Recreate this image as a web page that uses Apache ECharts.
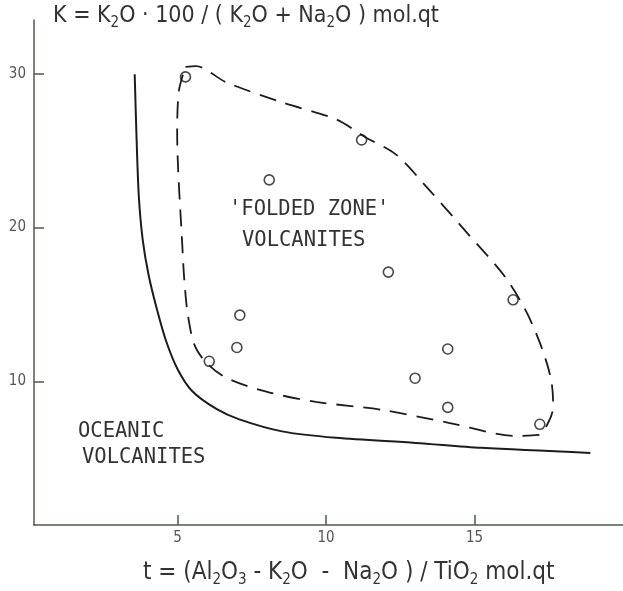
<!DOCTYPE html>
<html>
<head>
<meta charset="utf-8">
<script src="https://cdn.jsdelivr.net/npm/echarts@6/dist/echarts.min.js"></script>
<style>
html, body { margin: 0; padding: 0; background: #fff; }
#chart { width: 623px; height: 591px; }
</style>
</head>
<body>
<div id="chart"></div>
<script>
// tick labels
var xTicks = [5, 10, 15];
var yTicks = [10, 20, 30];

// samples: t (x) and K (y)
var sampleT = [5.27, 11.2, 8.09, 12.1, 16.3, 7.1, 7.0, 6.07, 14.1, 13.0, 14.1, 17.2];
var sampleK = [29.8, 25.7, 23.1, 17.1, 15.3, 14.3, 12.2, 11.3, 12.1, 10.2, 8.3, 7.2];

// boundary of oceanic volcanites (solid)
var oceanicT = [3.56, 3.62, 3.70, 3.83, 4.03, 4.32, 4.62, 5.00, 5.50, 6.31, 7.08, 8.52, 10.34, 13.02, 15.23, 18.9];
var oceanicK = [29.97, 26.0, 22.0, 19.2, 16.9, 14.6, 12.6, 10.8, 9.35, 8.2, 7.52, 6.74, 6.32, 5.99, 5.67, 5.34];

// envelope of 'folded zone' volcanites (dashed, closed)
var foldedT = [5.27, 5.62, 6.64, 8.52, 10.34, 11.34, 12.35, 13.46, 14.80, 15.97, 16.71, 17.25, 17.58, 17.65, 17.48, 17.15, 16.38, 14.13, 11.88, 9.66, 7.99, 6.64, 5.97, 5.57, 5.34, 5.23, 5.17, 4.99, 5.05, 5.27];
var foldedK = [30.45, 30.5, 29.45, 28.14, 27.04, 25.86, 24.76, 22.48, 19.54, 16.94, 14.66, 12.25, 10.10, 8.34, 7.30, 6.51, 6.45, 7.30, 8.14, 8.66, 9.32, 10.23, 11.21, 12.38, 14.46, 16.61, 18.57, 26.19, 28.9, 30.45];

var pairs = function(xs, ys) {
    var out = [];
    for (var i = 0; i < xs.length; i++) {
        out.push([xs[i], ys[i]]);
    }
    return out;
};

var textFont = '"DejaVu Sans Condensed", "Liberation Sans Narrow", "DejaVu Sans", sans-serif';
var areaFont = '"DejaVu Sans Mono", monospace';
var axisColor = '#4f5a4f';
var labelColor = '#555';
var inkColor = '#1c1c1c';

var subStyle = {
    fontSize: 15,
    lineHeight: 15,
    fontFamily: textFont,
    fill: '#333',
    verticalAlign: 'bottom'
};

var chart = echarts.init(document.getElementById('chart'));
var chartSettings = {
    animation: false,
    backgroundColor: '#fff',
    grid: { left: 34, right: 0, top: 20, bottom: 66 },
    xAxis: {
        type: 'value',
        min: 0.17,
        max: 20,
        axisLine: { show: true, lineStyle: { color: axisColor, width: 1.5 } },
        axisTick: { show: true, inside: true, length: 10, customValues: xTicks, lineStyle: { color: axisColor, width: 1.5 } },
        axisLabel: { customValues: xTicks, color: labelColor, fontSize: 15, fontFamily: textFont, margin: 6 },
        splitLine: { show: false }
    },
    yAxis: {
        type: 'value',
        min: 0.65,
        max: 33.5,
        axisLine: { show: true, lineStyle: { color: axisColor, width: 1.5 } },
        axisTick: { show: true, inside: true, length: 10, customValues: yTicks, lineStyle: { color: axisColor, width: 1.5 } },
        axisLabel: { customValues: yTicks, color: labelColor, fontSize: 15, fontFamily: textFont, margin: 8 },
        splitLine: { show: false }
    },
    graphic: [
        {
            type: 'text', x: 53, y: 16,
            style: {
                text: 'K = K{s|2}O · 100 / ( K{s|2}O + Na{s|2}O ) mol.qt',
                fontSize: 23, lineHeight: 30, fontFamily: textFont, fill: '#333',
                verticalAlign: 'middle', align: 'left',
                rich: { s: subStyle }
            }
        },
        {
            type: 'text', x: 143, y: 573,
            style: {
                text: 't = (Al{s|2}O{s|3} - K{s|2}O  -  Na{s|2}O ) / TiO{s|2} mol.qt',
                fontSize: 24, lineHeight: 30, fontFamily: textFont, fill: '#333',
                verticalAlign: 'middle', align: 'left',
                rich: { s: subStyle }
            }
        },
        { type: 'text', x: 229, y: 210, style: { text: "'FOLDED ZONE'", fontSize: 20.5, fontFamily: areaFont, fill: '#333', verticalAlign: 'middle' } },
        { type: 'text', x: 242, y: 241, style: { text: 'VOLCANITES', fontSize: 20.5, fontFamily: areaFont, fill: '#333', verticalAlign: 'middle' } },
        { type: 'text', x: 78, y: 432, style: { text: 'OCEANIC', fontSize: 20.5, fontFamily: areaFont, fill: '#333', verticalAlign: 'middle' } },
        { type: 'text', x: 82, y: 458, style: { text: 'VOLCANITES', fontSize: 20.5, fontFamily: areaFont, fill: '#333', verticalAlign: 'middle' } }
    ],
    series: [
        {
            name: 'oceanic',
            type: 'line',
            data: pairs(oceanicT, oceanicK),
            smooth: 0.3,
            symbol: 'none',
            lineStyle: { color: inkColor, width: 2 }
        },
        {
            name: 'folded zone',
            type: 'line',
            data: pairs(foldedT, foldedK),
            smooth: 0.3,
            symbol: 'none',
            lineStyle: { color: inkColor, width: 1.8, type: [17, 10] }
        },
        {
            name: 'samples',
            type: 'scatter',
            data: pairs(sampleT, sampleK),
            symbol: 'circle',
            symbolSize: 10,
            itemStyle: { color: 'rgba(255,255,255,0)', borderColor: inkColor, borderWidth: 1.6 }
        }
    ]
};
chart.setOption(chartSettings);
</script>
</body>
</html>
